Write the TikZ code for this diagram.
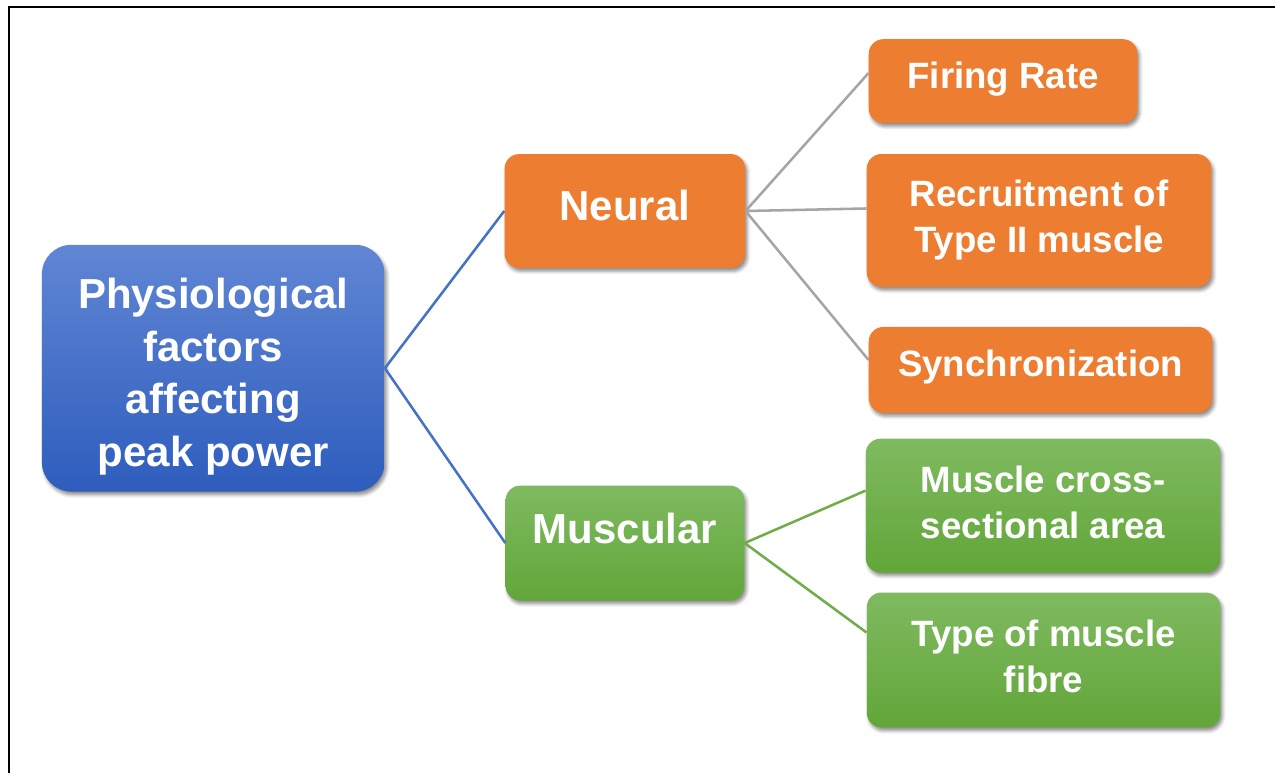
\documentclass[tikz,border=0pt]{standalone}
\usepackage{fontspec}
\setmainfont{Liberation Sans}
\usepackage{xcolor}
\usetikzlibrary{shapes,positioning,shadows,shadows.blur,calc}

\definecolor{rootTop}{RGB}{96,134,212}
\definecolor{rootBot}{RGB}{46,93,189}
\definecolor{neuralFill}{RGB}{237,125,49}
\definecolor{muscTop}{RGB}{127,186,96}
\definecolor{muscBot}{RGB}{98,166,57}
\definecolor{blueLink}{RGB}{68,114,196}
\definecolor{greyLink}{RGB}{165,165,165}
\definecolor{greenLink}{RGB}{112,173,71}

\begin{document}
\begin{tikzpicture}[
		box/.style={rectangle, rounded corners=11pt, text=white, align=center, inner sep=0pt,
			font=\bfseries\fontsize{27.5pt}{34.5pt}\selectfont,
			blur shadow={shadow xshift=1.5pt, shadow yshift=-2.5pt, shadow blur radius=2.5pt, shadow opacity=45}},
		bigbox/.style={box, font=\bfseries\fontsize{31.5pt}{39.5pt}\selectfont},
		orangebox/.style={fill=neuralFill},
		greenbox/.style={top color=muscTop, bottom color=muscBot},
		link/.style={line width=1.9pt}]
				% px-based sizes (1px = 0.75pt)
				\node[bigbox, rounded corners=22pt, top color=rootTop, bottom color=rootBot,
					minimum width=257.25pt, minimum height=185.25pt, text height=147.5pt, text depth=0pt] (root)
					{Physiological\\factors\\affecting\\peak power};
				
				\node[bigbox, orangebox, minimum width=180.75pt, minimum height=85.5pt,
					right=89.6pt of root, yshift=118pt, text depth=8pt] (neural) {Neural};
				\node[bigbox, greenbox, minimum width=179.25pt, minimum height=86.25pt,
					right=90.4pt of root, yshift=-131.25pt, text depth=22.5pt] (muscular) {Muscular};
				
				\node[box, orangebox, minimum width=201.75pt, minimum height=63pt,
					right=92.25pt of neural, yshift=97.5pt, text depth=9pt] (firing) {Firing Rate};
				\node[box, orangebox, minimum width=258.75pt, minimum height=99.75pt,
					right=90.75pt of neural, yshift=-7.1pt] (recruit) {Recruitment of\\Type II muscle};
				\node[box, orangebox, minimum width=258pt, minimum height=64.5pt,
					right=92.25pt of neural, yshift=-119.25pt, text depth=10.3pt] (synch) {Synchronization};
				
				\node[box, greenbox, minimum width=266.25pt, minimum height=100.5pt,
					right=90.75pt of muscular, yshift=28.1pt, text depth=5pt] (cross) {Muscle cross-\\sectional area};
				\node[box, greenbox, minimum width=265.5pt, minimum height=101.25pt,
					right=91.5pt of muscular, yshift=-87.75pt, text depth=5pt] (fibre) {Type of muscle\\fibre};
				
				\draw[link, blueLink] (root.east) -- (neural.west);
				\draw[link, blueLink] (root.east) -- (muscular.west);
				\draw[link, greyLink] (neural.east) -- ([yshift=6pt]firing.west);
				\draw[link, greyLink] (neural.east) -- ([yshift=9pt]recruit.west);
				\draw[link, greyLink] (neural.east) -- ([yshift=7.5pt]synch.west);
				\draw[link, greenLink] (muscular.east) -- ([yshift=11.25pt]cross.west);
				\draw[link, greenLink] (muscular.east) -- ([yshift=20.6pt]fibre.west);
				
				% frame, cut off on the right and at the bottom
				\coordinate (frameLow) at (-153.4pt,-304.1pt);
				\coordinate (frameEnd) at (796.9pt,271.1pt);
				\draw[line width=1.7pt] (frameLow) |- (frameEnd);
				\useasboundingbox (-160.1pt,-304.1pt) rectangle (796.9pt,276.4pt);
			\end{tikzpicture}
\end{document}
